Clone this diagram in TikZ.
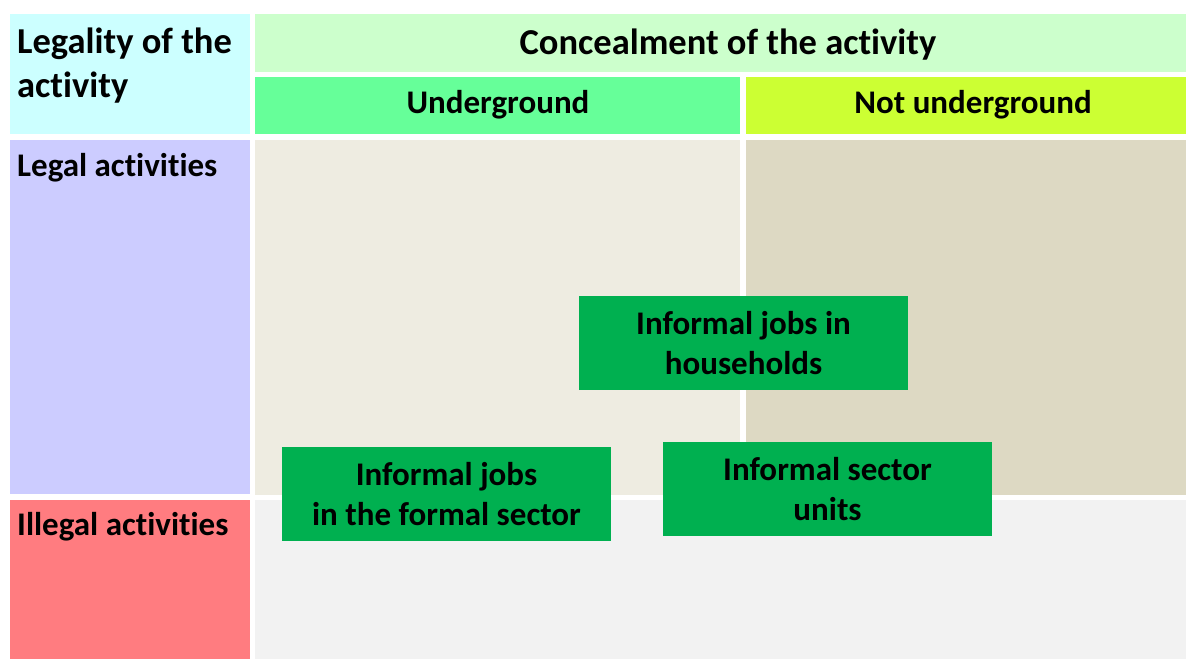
\documentclass[tikz,border=0pt]{standalone}
\usepackage{fontspec}
\setmainfont[Ligatures=NoCommon]{Carlito}
\definecolor{cLegHead}{HTML}{CCFFFF}
\definecolor{cConc}{HTML}{CCFFCC}
\definecolor{cUnder}{HTML}{66FF99}
\definecolor{cNotUnder}{HTML}{CCFF33}
\definecolor{cLegal}{HTML}{CCCCFF}
\definecolor{cIllegal}{HTML}{FF7C80}
\definecolor{cBeigeA}{HTML}{EEECE1}
\definecolor{cBeigeB}{HTML}{DDD9C3}
\definecolor{cGrey}{HTML}{F2F2F2}
\definecolor{cBox}{HTML}{00B050}
\begin{document}
\begin{tikzpicture}[x=1pt,y=-1pt,
  cell/.style={draw=none,inner sep=0pt,outer sep=0pt,anchor=north west},
  txt/.style={font=\bfseries\fontsize{33}{40}\selectfont,inner sep=0pt},
  bigtxt/.style={font=\bfseries\fontsize{36.5}{44}\selectfont,inner sep=0pt},
  greenbox/.style={fill=cBox,draw=none,inner sep=0pt,outer sep=0pt,minimum width=329pt,minimum height=94pt,align=center,font=\bfseries\fontsize{33}{40}\selectfont}]
\useasboundingbox (0,0) rectangle (1186,659);
\fill[white] (0,0) rectangle (1186,659);
% cells
\node[cell,fill=cLegHead,minimum width=240pt,minimum height=120pt] (leghead) at (10,14) {};
\node[cell,fill=cConc,minimum width=931pt,minimum height=58pt] (conc) at (255,14) {};
\node[cell,fill=cUnder,minimum width=485pt,minimum height=57pt] (under) at (255,77) {};
\node[cell,fill=cNotUnder,minimum width=440pt,minimum height=57pt] (notunder) at (746,77) {};
\node[cell,fill=cLegal,minimum width=240pt,minimum height=354pt] (legal) at (10,140) {};
\node[cell,fill=cIllegal,minimum width=240pt,minimum height=159pt] (illegal) at (10,500) {};
\node[cell,fill=cBeigeA,minimum width=485pt,minimum height=355pt] (legund) at (255,140) {};
\node[cell,fill=cBeigeB,minimum width=440pt,minimum height=355pt] (legnot) at (746,140) {};
\node[cell,fill=cGrey,minimum width=931pt,minimum height=159pt] (illall) at (255,500) {};
% texts
\node[bigtxt,anchor=base west] (t1) at (17,53) {Legality of the};
\node[bigtxt,anchor=base west] (t2) at (17,97) {activity};
\node[bigtxt] (t3) at (728,45) {Concealment of the activity};
\node[txt] (t4) at (498,105) {Underground};
\node[txt] (t5) at (973,105) {Not underground};
\node[txt,anchor=base west] (t6) at (17,176) {Legal activities};
\node[txt,anchor=base west] (t7) at (17,535) {Illegal activities};
% green boxes
\node[greenbox] (hh) at (743.5,343) {Informal jobs in\\households};
\node[greenbox] (isu) at (827.5,489) {Informal sector\\units};
\node[greenbox] (fs) at (446.5,494) {Informal jobs\\in the formal sector};
\end{tikzpicture}
\end{document}
